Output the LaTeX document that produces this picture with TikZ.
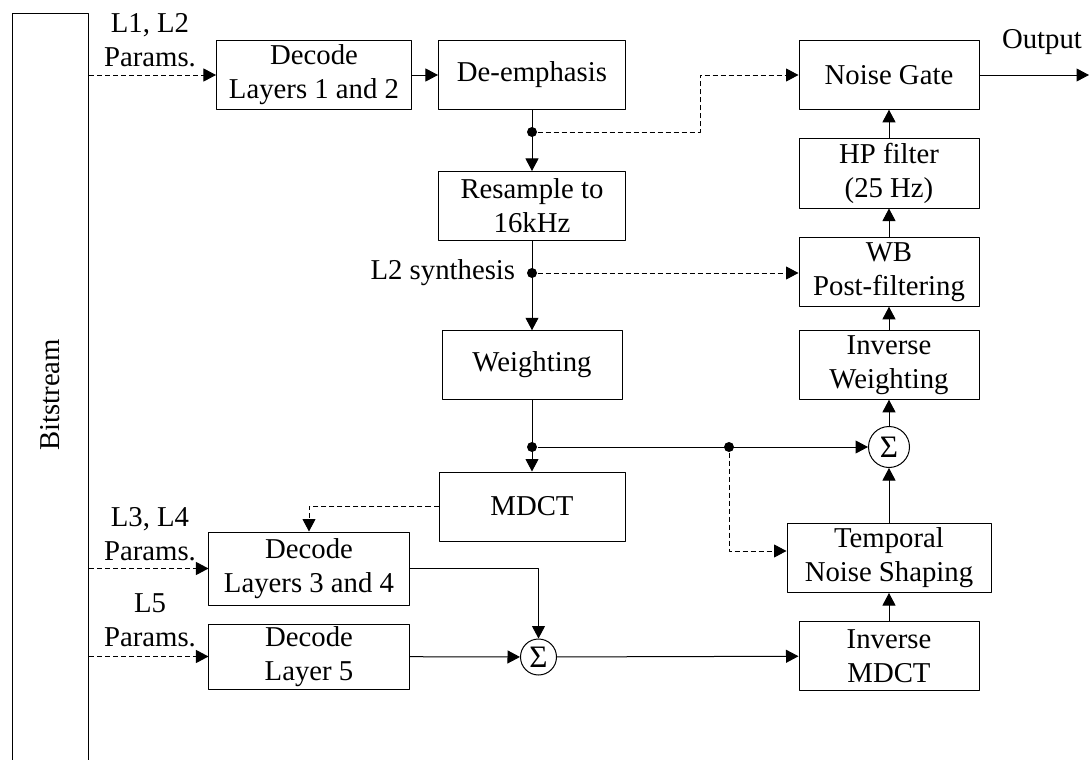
\documentclass[tikz,border=0pt]{standalone}
\usepackage{fontspec}
\setmainfont{Liberation Serif}
\usetikzlibrary{arrows.meta}
\begin{document}
\begin{tikzpicture}[x=0.4pt, y=-0.4pt, font=\fontsize{11.5}{13.6}\selectfont, line join=round,
	>={Stealth[inset=0pt, length=5pt, width=5.2pt]},
	blk/.style={draw, align=center, inner sep=0pt, minimum width=72pt, minimum height=27.4pt},
	sumnode/.style={draw, circle, inner sep=0pt, font=\fontsize{12.5}{13.6}\selectfont},
	junc/.style={circle, fill, inner sep=0pt, minimum size=4pt},
	dsh/.style={dash pattern=on 2pt off 1.2pt}]
			\useasboundingbox (0,0) rectangle (1089,760);
			% bitstream column
			\node[draw, anchor=north west, minimum width=30.4pt, minimum height=310pt] (bits) at (12,13) {};
			\node[rotate=90] (bitslbl) at (50,395) {Bitstream};
			% left branch
			\node[blk, minimum width=78pt] (dec12) at (314,75) {Decode\\Layers 1 and 2};
			\node[blk, minimum width=74.8pt] (deemph) at (532,75) {De-emphasis};
			\node[blk, minimum width=74.8pt, minimum height=27.6pt] (resamp) at (532,206) {Resample to\\16kHz};
			\node[blk] (weight) at (532,365) {Weighting};
			\node[blk, minimum width=74.4pt, minimum height=27.6pt] (mdct) at (532,506.5) {MDCT};
			\node[blk, minimum width=80pt, minimum height=29.2pt] (dec34) at (309,568.5) {Decode\\Layers 3 and 4};
			\node[blk, minimum width=80pt, minimum height=26pt] (dec5) at (309,656.5) {Decode\\Layer 5};
			\node[sumnode, minimum size=14.4pt] (sumL) at (538.5,657) {Σ};
			% right branch
			\node[blk, minimum height=27.6pt] (imdct) at (889,656) {Inverse\\MDCT};
			\node[blk, minimum width=81.6pt, minimum height=27.6pt] (tns) at (889,558) {Temporal\\Noise Shaping};
			\node[sumnode, minimum size=16.4pt] (sumR) at (889,447) {Σ};
			\node[blk] (invw) at (889,365) {Inverse\\Weighting};
			\node[blk] (wbpf) at (889,272) {WB\\Post-filtering};
			\node[blk, minimum height=27.6pt] (hpf) at (889,173.5) {HP filter\\(25 Hz)};
			\node[blk] (ngate) at (889,75) {Noise Gate};
			% labels
			\node[align=center] (p12) at (150,40) {L1, L2\\Params.};
			\node[align=center] (p34) at (150,534.5) {L3, L4\\Params.};
			\node[align=center] (p5) at (150,620.5) {L5\\Params.};
			\node (outlbl) at (1042,42) {Output};
			\coordinate (out) at (1089,75);
			% junctions
			\node[junc] (j1) at (532,132) {};
			\node[junc] (j2) at (532,273) {};
			\node[junc] (j3) at (532,447) {};
			\node[junc] (j4) at (729,447) {};
			\node[anchor=east] (l2syn) at (524,273) {L2 synthesis};
			% connectors
			\draw[dsh, ->] (bits.east |- dec12) -- (dec12);
			\draw[dsh, ->] (bits.east |- dec34) -- (dec34);
			\draw[dsh, ->] (bits.east |- dec5) -- (dec5);
			\draw[->] (dec12) -- (deemph);
			\draw[->] (deemph) -- (resamp);
			\draw[->] (resamp) -- (weight);
			\draw[->] (weight) -- (mdct);
			\draw[dsh, ->] (j1) -- ++(168,0) |- (ngate.west);
			\draw[dsh, ->] (j2) -- (j2 -| wbpf.west);
			\draw[->] (j3) -- (sumR);
			\draw[dsh, ->] (j4) |- ([yshift=2.8pt]tns.west);
			\draw[dsh, ->] (mdct.west) -| (dec34.north);
			\draw[->] (dec34.east) -| (sumL);
			\draw[->] (dec5) -- (sumL);
			\draw[->] (sumL) -- (imdct);
			\draw[->] (imdct) -- (tns);
			\draw[->] (tns) -- (sumR);
			\draw[->] (sumR) -- (invw);
			\draw[->] (invw) -- (wbpf);
			\draw[->] (wbpf) -- (hpf);
			\draw[->] (hpf) -- (ngate);
			\draw[->] (ngate) -- (out);
	\end{tikzpicture}
\end{document}
